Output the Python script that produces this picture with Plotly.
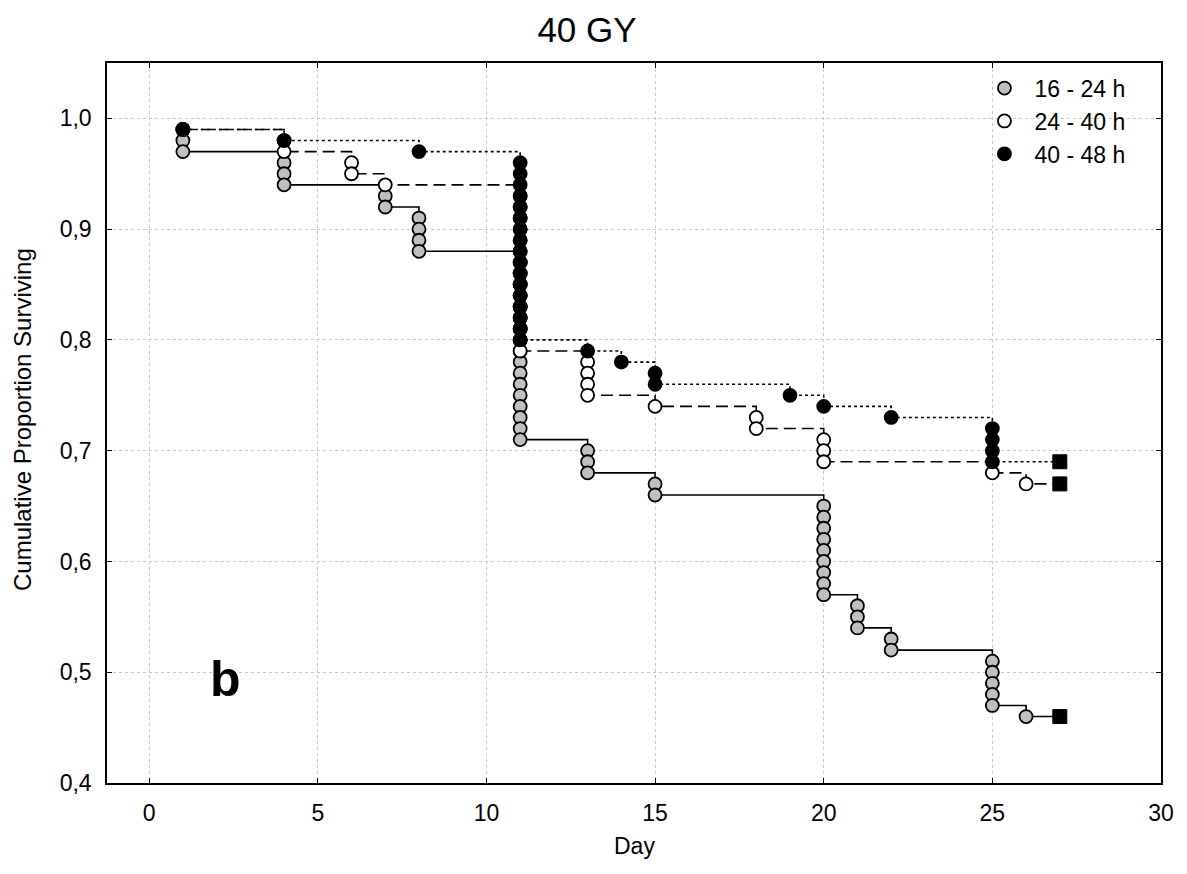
import plotly.graph_objects as go

# ---- data ----
g1_name = "16 - 24 h"
g1_days = [1, 4, 7, 8, 11, 13, 15, 20, 21, 22, 25, 26]
g1_surv = [0.97, 0.94, 0.92, 0.88, 0.71, 0.68, 0.66, 0.57, 0.54, 0.52, 0.47, 0.46]

g2_name = "24 - 40 h"
g2_days = [1, 4, 6, 7, 11, 13, 15, 18, 20, 25, 26]
g2_surv = [0.99, 0.97, 0.95, 0.94, 0.79, 0.75, 0.74, 0.72, 0.69, 0.68, 0.67]

g3_name = "40 - 48 h"
g3_days = [1, 4, 8, 11, 13, 14, 15, 19, 20, 22, 25]
g3_surv = [0.99, 0.98, 0.97, 0.80, 0.79, 0.78, 0.76, 0.75, 0.74, 0.73, 0.69]

censor_day = 27
step = 0.01  # one subject out of 100

x_ticks = [0, 5, 10, 15, 20, 25, 30]
y_ticks = [0.4, 0.5, 0.6, 0.7, 0.8, 0.9, 1.0]
y_ticklabels = ["0,4", "0,5", "0,6", "0,7", "0,8", "0,9", "1,0"]

FONT = "Liberation Sans, Arial, sans-serif"
OFF = 8  # page body margin

groups = [
    (g1_name, g1_days, g1_surv, "#c0c0c0", "solid"),
    (g2_name, g2_days, g2_surv, "#ffffff", "12px,6px"),
    (g3_name, g3_days, g3_surv, "#000000", "dot"),
]

fig = go.Figure()

# step lines
for name, days, surv, col, dash in groups:
    fig.add_trace(go.Scatter(
        x=days + [censor_day], y=surv + [surv[-1]],
        mode="lines", line=dict(color="black", width=1.6, dash=dash, shape="hv"),
        showlegend=False, hoverinfo="skip"))

# event circles (one per death) and censoring squares
for name, days, surv, col, dash in groups:
    xs, ys = [], []
    prev = 1.0
    for d, s in zip(days, surv):
        n = int(round((prev - s) / step))
        for k in range(1, n + 1):
            xs.append(d)
            ys.append(round(prev - k * step, 2))
        prev = s
    fig.add_trace(go.Scatter(
        x=xs, y=ys, mode="markers", name=name,
        marker=dict(symbol="circle", size=13, color=col,
                    line=dict(color="black", width=1.8)),
        showlegend=True))
    fig.add_trace(go.Scatter(
        x=[censor_day], y=[surv[-1]], mode="markers",
        marker=dict(symbol="square", size=14, color="black",
                    line=dict(color="black", width=1)),
        showlegend=False))

fig.add_annotation(x=2.25, y=0.494, text="<b>b</b>", showarrow=False,
                   font=dict(family=FONT, size=50, color="black"),
                   xanchor="center", yanchor="middle")

# axis titles
fig.add_annotation(x=0.5, y=0, xref="paper", yref="paper", yshift=-63,
                   text="Day", showarrow=False, xanchor="center", yanchor="middle",
                   font=dict(family=FONT, size=23, color="black"))
fig.add_annotation(x=0, y=0.5, xref="paper", yref="paper", xshift=-85, yshift=3,
                   text="Cumulative Proportion Surviving", textangle=-90,
                   showarrow=False, xanchor="center", yanchor="middle",
                   font=dict(family=FONT, size=24, color="black"))

W, H = 1187 - OFF, 874 - OFF
fig.update_layout(
    width=W, height=H,
    margin=dict(l=107 - OFF, r=26, t=63 - OFF, b=91),
    paper_bgcolor="white", plot_bgcolor="white",
    font=dict(family=FONT, size=23, color="black"),
    title=dict(text="40 GY", x=(587 - OFF) / W, xref="container", xanchor="center",
               y=1 - (30 - OFF) / H, yref="container", yanchor="middle",
               font=dict(family=FONT, size=35, color="black")),
    legend=dict(x=0.823, y=0.995, xanchor="left", yanchor="top",
                bgcolor="rgba(0,0,0,0)", borderwidth=0,
                font=dict(family=FONT, size=23), itemwidth=50,
                tracegroupgap=0),
    showlegend=True,
)
fig.update_xaxes(
    range=[-1.25, 30], tickvals=x_ticks, ticks="inside", ticklen=5,
    tickcolor="black", showline=True, linecolor="black", linewidth=1.5,
    mirror="ticks", showgrid=True, gridcolor="#c8c8c8", griddash="dot",
    gridwidth=1, zeroline=False, ticklabelstandoff=9,
    tickfont=dict(family=FONT, size=23))
fig.update_yaxes(
    range=[0.4, 1.05], tickvals=y_ticks, ticktext=y_ticklabels,
    ticks="inside", ticklen=5, tickcolor="black", showline=True,
    linecolor="black", linewidth=1.5, mirror="ticks", showgrid=True,
    gridcolor="#c8c8c8", griddash="dot", gridwidth=1, zeroline=False,
    ticklabelstandoff=9,
    tickfont=dict(family=FONT, size=23))

fig.write_html("out.html")
